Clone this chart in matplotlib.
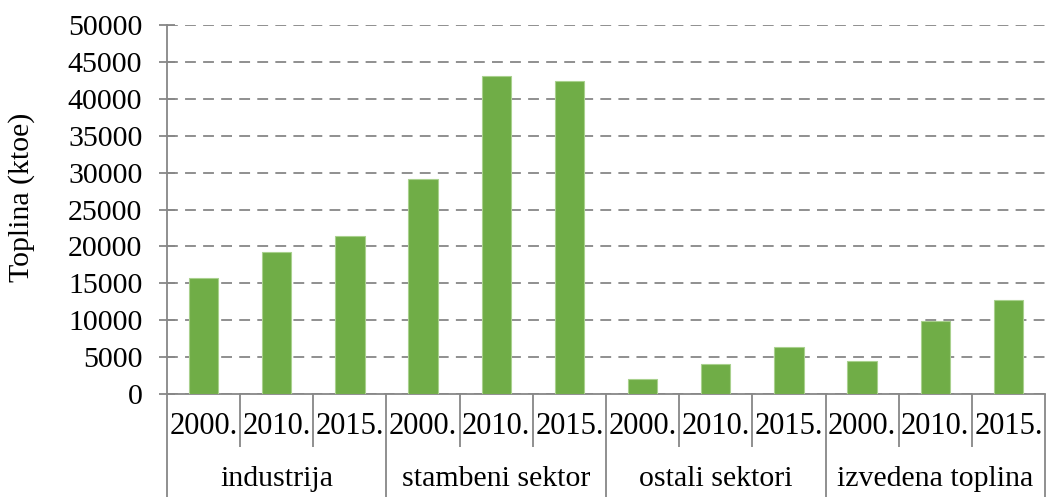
import matplotlib
matplotlib.use("Agg")
import matplotlib.pyplot as plt
import matplotlib.transforms as mtransforms

plt.rcParams['font.family'] = ['Liberation Serif', 'DejaVu Serif']

groups = ["industrija", "stambeni sektor", "ostali sektori", "izvedena toplina"]
years = ["2000.", "2010.", "2015."]
values = [15800, 19200, 21400,
          29100, 43000, 42400,
          2100, 4100, 6400,
          4500, 9900, 12700]
yticks = [0, 5000, 10000, 15000, 20000, 25000, 30000, 35000, 40000, 45000, 50000]

W, H = 1047, 497
fig = plt.figure(figsize=(W / 100, H / 100), dpi=100)
left, right, top, bottom = 167 / W, 1045 / W, 24.7 / H, 394.3 / H
ax = fig.add_axes([left, 1 - bottom, right - left, bottom - top])

n = len(values)
xs = list(range(n))
ax.bar(xs, values, width=0.4, color="#70AD47", edgecolor="#A9D18E", linewidth=0.8, zorder=3)

ax.set_xlim(-0.5, n - 0.5)
ax.set_ylim(0, 50000)
ax.set_yticks(yticks)
ax.set_yticklabels([str(v) for v in yticks], fontsize=21.5)
ax.yaxis.grid(True, linestyle=(0, (6, 4)), color="#878787", linewidth=1.3, zorder=0)
ax.set_axisbelow(True)
ax.tick_params(axis="y", direction="inout", length=11.5, width=1.3, color="#878787", pad=12)
ax.set_xticks([])

for s in ["top", "right"]:
    ax.spines[s].set_visible(False)
for s in ["left", "bottom"]:
    ax.spines[s].set_color("#878787")
    ax.spines[s].set_linewidth(1.3)

trans = mtransforms.blended_transform_factory(ax.transData, ax.transAxes)
axh = bottom - top
short_y = -(447 - 394.3) / (axh * H)
long_y = -(497 - 394.3) / (axh * H)
year_y = -(427 - 394.3) / (axh * H)
group_y = -(479 - 394.3) / (axh * H)

for k in range(n + 1):
    xb = k - 0.5
    yend = long_y if k % 3 == 0 else short_y
    ax.plot([xb, xb], [0, yend], transform=trans, color="#878787", linewidth=1.3,
            clip_on=False, solid_capstyle="butt")

for i in range(n):
    ax.text(i, year_y, years[i % 3], transform=trans, ha="center", va="center", fontsize=22)

for g, name in enumerate(groups):
    ax.text(3 * g + 1, group_y, name, transform=trans, ha="center", va="center", fontsize=21.5)

fig.text(22 / W, 1 - 197 / H, "Toplina (ktoe)", rotation=90, ha="center", va="center", fontsize=21.5)

fig.savefig("out.png", dpi=100)
